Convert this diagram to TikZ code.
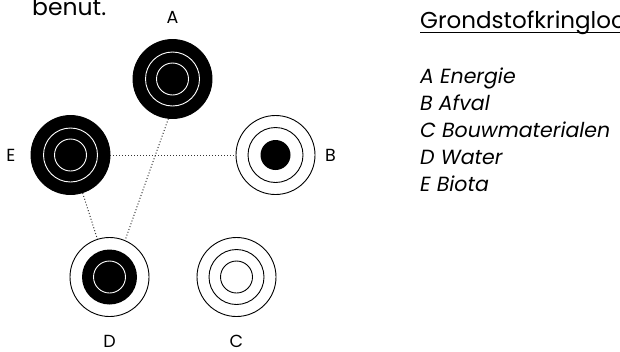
\documentclass[tikz,border=0pt]{standalone}
\usepackage{fontspec}
\setmainfont{Poppins}
\usetikzlibrary{positioning}

\begin{document}
\begin{tikzpicture}[x=1pt,y=-1pt,every node/.style={font=\fontsize{17.5}{21}\selectfont},disc/.style={circle,minimum size=79pt,inner sep=0pt,draw=black,line width=0.9pt},dark/.style={disc,fill=black},light/.style={disc,fill=white},wring/.style={white,line width=0.9pt},bring/.style={black,line width=0.9pt},link/.style={line width=1pt,dash pattern=on 1pt off 2pt,black!80},letter/.style={inner sep=0pt}]
\useasboundingbox (0,0) rectangle (620,351);
% text that runs past the edges
\node[anchor=base west,inner sep=0pt,font=\fontsize{23.5}{28}\selectfont] (prev) at (32,15) {benut.};
\node[anchor=base west,inner sep=0pt,font=\fontsize{23}{28}\selectfont] (title) at (420,28.3) {Grondstofkringloop};
\draw[line width=1.5pt] ([yshift=-4.4pt]title.base west) -- ([yshift=-4.4pt]title.base east);
\node[anchor=base west,inner sep=0pt,align=left,font=\fontsize{20.5}{27}\selectfont\itshape] (legend) at (420,191.3) {A Energie\\B Afval\\C Bouwmaterialen\\D Water\\E Biota};
% the five cycles
\node[dark] (a) at (172.5,79) {};
\node[dark] (e) at (70.5,155) {};
\node[light] (b) at (275.5,155) {};
\node[light] (d) at (109.5,277) {};
\node[light] (c) at (236.5,277) {};
\draw[wring] (a.center) circle[radius=27pt] (a.center) circle[radius=16pt];
\draw[wring] (e.center) circle[radius=27pt] (e.center) circle[radius=16pt];
\draw[bring] (b.center) circle[radius=27.5pt]; \fill (b.center) circle[radius=15pt];
\fill (d.center) circle[radius=27.5pt]; \draw[wring] (d.center) circle[radius=16pt];
\draw[bring] (c.center) circle[radius=27.5pt] (c.center) circle[radius=16pt];
\node[letter,above=15pt of a] (la) {A};
\node[letter,right=9.5pt of b] (lb) {B};
\node[letter,below=18pt of c] (lc) {C};
\node[letter,below=18pt of d] (ld) {D};
\node[letter,left=15pt of e] (le) {E};
\draw[link] (e) -- (b);
\draw[link] (e) -- (d);
\draw[link] (a.-96) -- (d.67);
\end{tikzpicture}
\end{document}
